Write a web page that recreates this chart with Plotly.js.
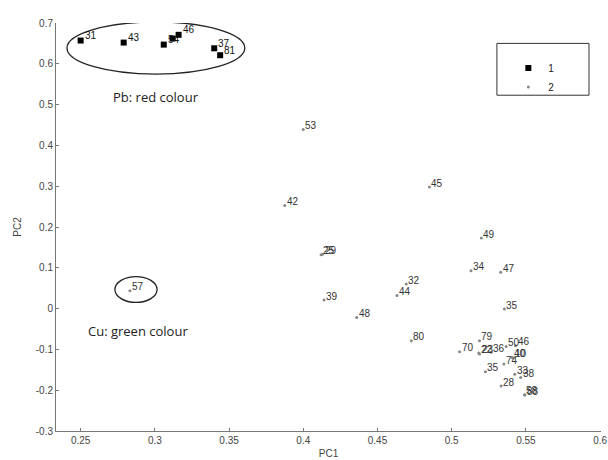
<!DOCTYPE html>
<html>
<head>
<meta charset="utf-8">
<script src="https://cdn.plot.ly/plotly-3.0.1.min.js"></script>
<style>html,body{margin:0;padding:0;background:#fff;}#chart{width:608px;height:460px;}</style>
</head>
<body>
<div id="chart"></div>
<script>
// Group 1 (black squares, Pb cluster)
const g1Labels = ["31", "43", "54", "", "46", "37", "81"];
const g1PC1 = [0.250, 0.279, 0.306, 0.312, 0.316, 0.340, 0.344];
const g1PC2 = [0.657, 0.652, 0.647, 0.662, 0.671, 0.638, 0.621];

// Group 2 (grey dots)
const g2Labels = ["53", "42", "45", "25", "29", "39", "32", "44", "48", "49", "34", "47", "35",
  "80", "79", "70", "22", "23", "36", "50", "46", "40", "10", "74", "35", "33", "38", "28", "58", "88", "57"];
const g2PC1 = [0.400, 0.3875, 0.485, 0.412, 0.413, 0.414, 0.4694, 0.4631, 0.436, 0.520, 0.513, 0.533, 0.5355,
  0.4728, 0.5187, 0.5053, 0.5182, 0.5188, 0.5266, 0.5367, 0.543, 0.5408, 0.5412, 0.5352, 0.5227, 0.5425, 0.5465, 0.5333, 0.549, 0.5494, 0.2832];
const g2PC2 = [0.439, 0.253, 0.298, 0.132, 0.133, 0.021, 0.060, 0.032, -0.022, 0.173, 0.093, 0.089, -0.001,
  -0.079, -0.079, -0.106, -0.109, -0.111, -0.107, -0.093, -0.091, -0.120, -0.121, -0.136, -0.155, -0.161, -0.169, -0.190, -0.211, -0.212, 0.044];

const axisFont = {family: "Liberation Sans, Arial, sans-serif", size: 10, color: "#444"};
const labelFont1 = {family: "Liberation Sans, Arial, sans-serif", size: 10, color: "#111"};
const labelFont2 = {family: "Liberation Sans, Arial, sans-serif", size: 10, color: "#333"};

const traces = [
  {
    x: g1PC1, y: g1PC2, name: "1", type: "scatter", mode: "markers",
    marker: {symbol: "square", size: 6, color: "#000"}, cliponaxis: false
  },
  {
    x: g2PC1, y: g2PC2, name: "2", type: "scatter", mode: "markers",
    marker: {symbol: "circle", size: 3, color: "#888"}, cliponaxis: false
  }
];

const pointLabels = [];
g1PC1.forEach((x, i) => {
  if (g1Labels[i]) pointLabels.push({x: x, y: g1PC2[i], xref: "x", yref: "y", text: g1Labels[i],
    showarrow: false, xanchor: "left", yanchor: "middle", xshift: 2, yshift: 5, font: labelFont1});
});
g2PC1.forEach((x, i) => {
  pointLabels.push({x: x, y: g2PC2[i], xref: "x", yref: "y", text: g2Labels[i],
    showarrow: false, xanchor: "left", yanchor: "middle", xshift: 0, yshift: 4, font: labelFont2});
});

const layout = {
  width: 608, height: 460,
  margin: {l: 56, r: 7, t: 23, b: 29},
  paper_bgcolor: "#fff", plot_bgcolor: "#fff",
  showlegend: true,
  legend: {x: 0.83, y: 0.925, xanchor: "left", yanchor: "top", bgcolor: "rgba(0,0,0,0)",
    borderwidth: 0, font: {family: "Liberation Sans, Arial, sans-serif", size: 10, color: "#222"}},
  xaxis: {
    range: [0.2334, 0.6006], tickvals: [0.25, 0.3, 0.35, 0.4, 0.45, 0.5, 0.55, 0.6],
    ticktext: ["0.25", "0.3", "0.35", "0.4", "0.45", "0.5", "0.55", "0.6"],
    ticks: "inside", ticklen: 3, tickcolor: "#777", showgrid: false, zeroline: false,
    showline: true, linecolor: "#777", linewidth: 1, tickfont: axisFont,
    title: {text: "PC1", font: axisFont, standoff: 4}
  },
  yaxis: {
    range: [-0.3, 0.7], tickvals: [-0.3, -0.2, -0.1, 0, 0.1, 0.2, 0.3, 0.4, 0.5, 0.6, 0.7],
    ticktext: ["-0.3", "-0.2", "-0.1", "0", "0.1", "0.2", "0.3", "0.4", "0.5", "0.6", "0.7"],
    ticks: "inside", ticklen: 3, tickcolor: "#777", showgrid: false, zeroline: false,
    showline: true, linecolor: "#777", linewidth: 1, tickfont: axisFont,
    title: {text: "PC2", font: axisFont, standoff: 12}
  },
  shapes: [
    {type: "circle", xref: "x", yref: "y", x0: 0.2408, x1: 0.3606, y0: 0.5747, y1: 0.7025,
      line: {color: "#222", width: 1.3}},
    {type: "circle", xref: "x", yref: "y", x0: 0.2731, x1: 0.3015, y0: 0.0152, y1: 0.0784,
      line: {color: "#222", width: 1.3}},
    {type: "rect", xref: "paper", yref: "paper", x0: 0.809, x1: 0.978, y0: 0.823, y1: 0.950,
      line: {color: "#333", width: 1}}
  ],
  annotations: pointLabels.concat([
    {x: 0.3007, y: 0.519, xref: "x", yref: "y", text: "Pb: red colour", showarrow: false,
      font: {family: "Open Sans, sans-serif", size: 13, color: "#222"}},
    {x: 0.2886, y: -0.054, xref: "x", yref: "y", text: "Cu: green colour", showarrow: false,
      font: {family: "Open Sans, sans-serif", size: 13, color: "#222"}}
  ])
};

Plotly.newPlot("chart", traces, layout, {displayModeBar: false, staticPlot: true});
</script>
</body>
</html>
